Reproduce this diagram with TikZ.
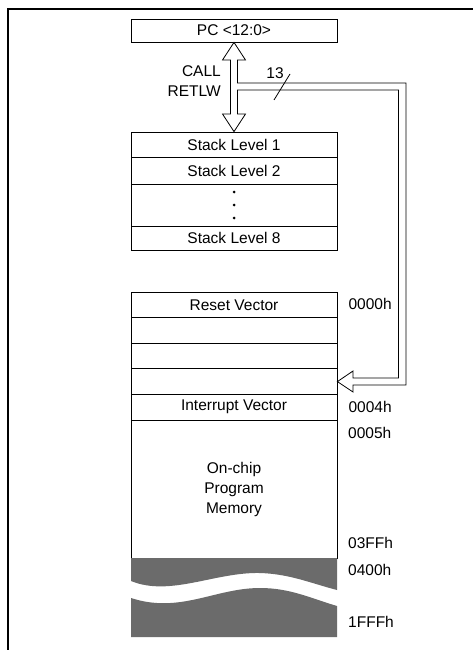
\documentclass[tikz,border=0pt]{standalone}
\usepackage{fontspec}
\setmainfont{Liberation Sans}
\usetikzlibrary{calc}
\newcommand{\memfont}{\fontsize{15.5}{20}\selectfont}
\tikzset{
	cell/.style={draw, line width=0.8pt, minimum width=206pt, inner sep=0pt, font=\memfont},
	addr/.style={anchor=west, inner sep=0pt, font=\memfont},
	band/.style={fill=black!58},
}
\begin{document}
\begin{tikzpicture}[x=1pt, y=-1pt]
	\useasboundingbox (0,0) rectangle (473,650);
	% frame
	\draw[line width=1.6pt] (473,9) -- (8,9) -- (8,650);
	% program counter and stack
	\node[cell, minimum height=23pt] (pc) at (234,30.5) {PC <12:0>};
	\node[cell, minimum height=25pt] (s1) at (234,144.5) {Stack Level 1};
	\node[cell, minimum height=27pt] (s2) at (234,170.5) {Stack Level 2};
	\node[cell, minimum height=42pt] (sdots) at (234,205) {};
	\node[cell, minimum height=24pt] (s8) at (234,238) {Stack Level 8};
	\foreach \dy in {-13,0,13}
		\fill ($(sdots.center)+(0,\dy)$) circle (1.5pt);
	% program memory, one row per address
	\foreach \i/\txt in {0/Reset Vector,1/,2/,3/,4/Interrupt Vector}
		\node[cell, minimum height=25.6pt] (m\i) at (234,{304.8+25.6*\i}) {\txt};
	\node[cell, minimum height=138pt, align=center] (mem) at (234,489) {On-chip\\Program\\Memory};
	% unimplemented space, cut by the wave
	\fill[band] (131,558) -- (337,558) -- (337,590)
		.. controls (310,583) and (290,574) .. (260,573)
		.. controls (215,572) and (170,597) .. (131,581) -- cycle;
	\fill[band] (131,598) .. controls (180,614) and (215,588) .. (260,588)
		.. controls (290,588) and (310,598) .. (337,606) -- (337,637) -- (131,637) -- cycle;
	% addresses
	\node[addr] (a0) at ($(m0.east)+(11,-1)$) {0000h};
	\node[addr] (a4) at ($(m4.east)+(11,0)$) {0004h};
	\node[addr] (a5) at (348,433) {0005h};
	\node[addr] (a3ff) at (348,543) {03FFh};
	\node[addr] (a400) at (348,570) {0400h};
	\node[addr] (a1fff) at (348,622) {1FFFh};
	% hollow bus: PC <-> stack, PC -> memory
	\draw[line width=0.8pt, fill=white] (pc.south) -- (245.5,60) -- (237.5,60) -- (237.5,83)
		-- (406,83) -- (406,385) -- (353,385) -- (353,392) -- (m3.east)
		-- (353,371) -- (353,378) -- (398.5,378) -- (398.5,90) -- (237.5,90)
		-- (237.5,114) -- (245.5,114) -- (s1.north) -- (222.5,114) -- (230.5,114)
		-- (230.5,60) -- (222.5,60) -- cycle;
	\node[font=\memfont, align=right, anchor=east, inner sep=0pt] (op) at (221,81) {CALL\\RETLW};
	\node[font=\memfont, inner sep=0pt] (w) at (275,73) {13};
	\draw[line width=0.8pt] (274,100) -- (290,74);
\end{tikzpicture}
\end{document}
